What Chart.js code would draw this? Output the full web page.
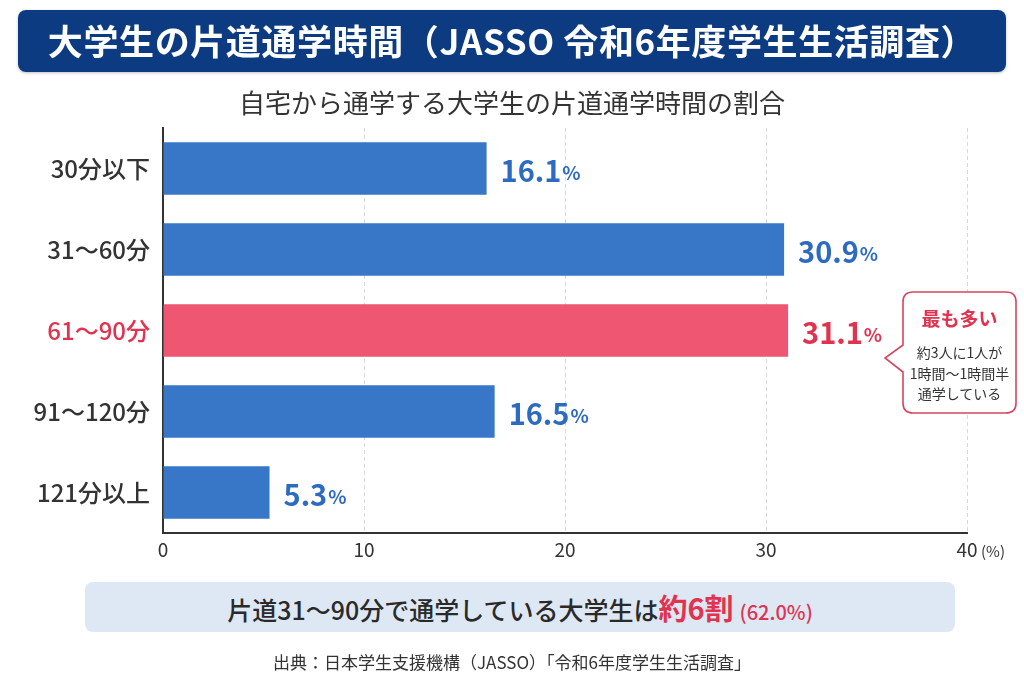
<!DOCTYPE html>
<html lang="ja">
<head>
<meta charset="utf-8">
<script src="https://cdn.jsdelivr.net/npm/chart.js@4.4.1/dist/chart.umd.min.js"></script>
<style>
  html, body { margin:0; padding:0; background:#fff; }
  body { width:1024px; height:683px; position:relative; overflow:hidden;
         font-family:"Noto Sans CJK JP","Noto Sans",sans-serif; color:#333; }
  #c { position:absolute; left:0; top:0; }
  .abs { position:absolute; }
  #title { left:18px; top:10px; width:988px; height:62px; background:#0d3b82; border-radius:8px;
           color:#fff; font-weight:700; font-size:35px; line-height:60px; text-align:center; letter-spacing:0.6px;
           box-shadow:0 1px 3px rgba(0,0,0,0.25); }
  #subtitle { left:0; top:84px; width:1024px; text-align:center; font-size:26px; line-height:36px; color:#333; }
  #pct { left:981px; top:541px; font-size:15px; color:#333; line-height:20px; }
  #summary { left:85px; top:582px; width:870px; height:50px; background:#dee8f5; border-radius:8px;
             text-align:center; line-height:50px; font-size:25px; font-weight:500; color:#2a2a2a; }
  #summary .big { color:#e0334f; font-weight:700; font-size:29px; }
  #summary .small { color:#e0334f; font-size:20px; font-weight:500; margin-left:6px; }
  #source { left:0; top:650px; width:1024px; text-align:center; font-size:17px; line-height:24px; color:#333; }
  #callout { left:880px; top:285px; }
  .ct { position:absolute; left:903px; width:113px; text-align:center; }
</style>
</head>
<body>
<canvas id="c" width="1024" height="683"></canvas>
<div id="title" class="abs">大学生の片道通学時間（JASSO 令和6年度学生生活調査）</div>
<div id="subtitle" class="abs">自宅から通学する大学生の片道通学時間の割合</div>
<div id="pct" class="abs">(%)</div>
<svg id="callout" class="abs" width="144" height="135" viewBox="0 0 144 135">
  <path d="M33,7 H126 Q136,7 136,17 V118 Q136,128 126,128 H33 Q23,128 23,118 V87 L5,73 L23,60 V17 Q23,7 33,7 Z"
        fill="#fff" stroke="#d9455f" stroke-width="1.6"/>
</svg>
<div class="ct" style="top:305px;font-size:19px;font-weight:700;color:#e0334f;line-height:26px;">最も多い</div>
<div class="ct" style="top:342px;font-size:14px;line-height:20.5px;color:#333;">約3人に1人が<br>1時間～1時間半<br>通学している</div>
<div id="summary" class="abs">片道31～90分で通学している大学生は<span class="big">約6割</span><span class="small">(62.0%)</span></div>
<div id="source" class="abs">出典：日本学生支援機構（JASSO）「令和6年度学生生活調査」</div>
<script>
const categories = ["30分以下", "31～60分", "61～90分", "91～120分", "121分以上"];
const values = [16.1, 30.9, 31.1, 16.5, 5.3];
const highlight = [false, false, true, false, false];
const xTicks = [0, 10, 20, 30, 40];

const BLUE = "#3876c8", RED = "#ee5671";
const LBLUE = "#2d6bc0", LRED = "#e0334f";

const labelPlugin = {
  id: "valueLabels",
  afterDatasetsDraw(chart) {
    const ctx = chart.ctx;
    const meta = chart.getDatasetMeta(0);
    meta.data.forEach((bar, i) => {
      const col = highlight[i] ? LRED : LBLUE;
      const num = values[i].toFixed(1);
      let x = bar.x + 14;
      const y = bar.y + 2;
      ctx.save();
      ctx.fillStyle = col;
      ctx.textBaseline = "middle";
      ctx.textAlign = "left";
      ctx.font = "700 29px 'Noto Sans CJK JP', 'Noto Sans', sans-serif";
      ctx.fillText(num, x, y);
      x += ctx.measureText(num).width + 1;
      ctx.font = "700 19px 'Noto Sans CJK JP', 'Noto Sans', sans-serif";
      ctx.fillText("%", x, y + 2);
      ctx.restore();
    });
  }
};

new Chart(document.getElementById("c"), {
  type: "bar",
  data: {
    labels: categories,
    datasets: [{
      data: values,
      backgroundColor: highlight.map(h => h ? RED : BLUE),
      borderWidth: 0,
      barPercentage: 0.65,
      categoryPercentage: 1.0
    }]
  },
  options: {
    indexAxis: "y",
    responsive: false,
    animation: false,
    devicePixelRatio: 1,
    layout: { padding: { left: 0, right: 57, top: 128, bottom: 115 } },
    plugins: { legend: { display: false }, tooltip: { enabled: false } },
    scales: {
      x: {
        min: 0, max: 40,
        afterBuildTicks: s => { s.ticks = xTicks.map(v => ({ value: v })); },
        afterFit: s => { s.height = 35; },
        ticks: { color: "#333", font: { size: 19, family: "'Noto Sans CJK JP', 'Noto Sans', sans-serif" }, padding: 5 },
        grid: { color: "#d8d8d8", lineWidth: 1, drawTicks: false },
        border: { display: true, color: "#333", width: 2, dash: [4, 3] }
      },
      y: {
        afterFit: s => { s.width = 163; },
        ticks: {
          color: highlight.map(h => h ? LRED : "#333"),
          font: { size: 24, weight: "500", family: "'Noto Sans CJK JP', 'Noto Sans', sans-serif" },
          padding: 13
        },
        grid: { display: false, drawTicks: false },
        border: { display: true, color: "#333", width: 2 }
      }
    }
  },
  plugins: [labelPlugin]
});
</script>
</body>
</html>
